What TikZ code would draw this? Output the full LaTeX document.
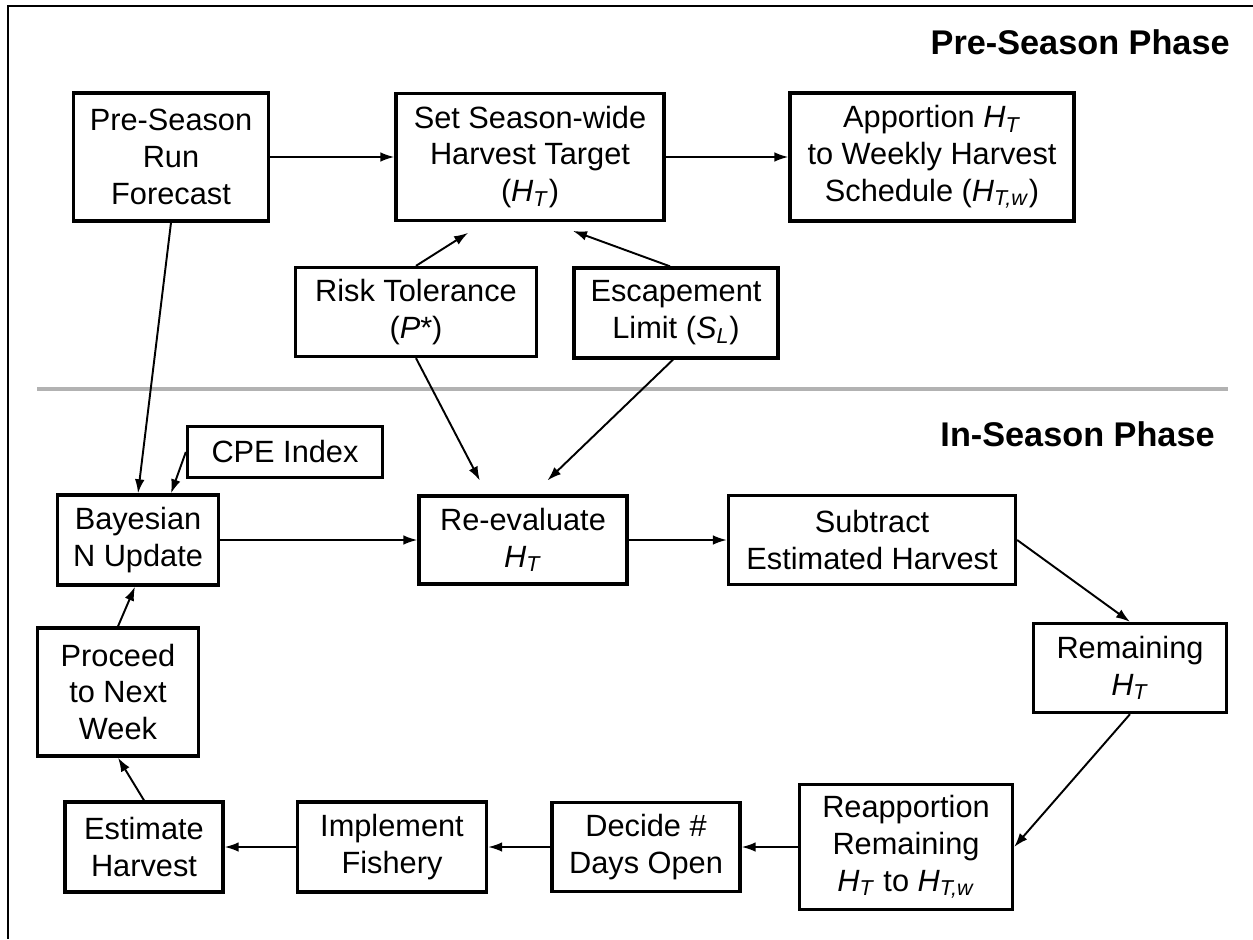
\documentclass[tikz,border=0pt]{standalone}
\usepackage{fontspec}
\setmainfont{Liberation Sans}
\usepackage{tikz}
\usetikzlibrary{arrows.meta, positioning, calc}

\newcommand{\Ht}{\textit{H}\textsubscript{\textit{T}}}
\newcommand{\Htw}{\textit{H}\textsubscript{\textit{T,w}}}

\tikzset{
    box/.style={draw, line width=1.9pt, align=center, inner sep=0pt,
        font=\fontsize{17.5}{21}\selectfont},
    arr/.style={-{Latex[length=8pt,width=5.5pt]}, line width=1.1pt},
    phase/.style={inner sep=0pt, font=\fontsize{19.5}{24}\selectfont\bfseries}
}

\begin{document}
\begin{tikzpicture}[x=0.02cm, y=-0.02cm]
        \useasboundingbox (0,0) rectangle (1253,939);
        \draw[line width=1.4pt] (1253,6) -- (8,6) -- (8,939);

        % Pre-season
        \node[phase, anchor=base east] (pretitle) at (1230,55) {Pre-Season Phase};
        \node[box, minimum width=3.9cm, minimum height=2.56cm] (fcst) at (171,157) {Pre-Season\\Run\\Forecast};
        \node[box, minimum width=5.36cm, minimum height=2.54cm] (target) at (530,157) {Set Season-wide\\Harvest Target\\(\Ht)};
        \node[box, minimum width=5.68cm, minimum height=2.56cm] (apport) at (932,157) {Apportion \Ht\\to Weekly Harvest\\Schedule (\Htw)};
        \node[box, minimum width=4.82cm, minimum height=1.78cm] (risk) at (416,312) {Risk Tolerance\\(\textit{P}*)};
        \node[box, minimum width=4.08cm, minimum height=1.8cm] (escape) at (676,313) {Escapement\\Limit (\textit{S}\textsubscript{\textit{L}})};

        % phase divider
        \draw[line width=1.8pt, gray!60] (37,389) -- (1228,389);

        % In-season
        \node[phase, anchor=base east] (intitle) at (1215,446) {In-Season Phase};
        \node[box, minimum width=3.9cm, minimum height=1.02cm] (cpe) at (285,452) {CPE Index};
        \node[box, minimum width=3.22cm, minimum height=1.8cm] (bayes) at (138,540) {Bayesian\\N Update};
        \node[box, minimum width=4.16cm, minimum height=1.76cm] (reeval) at (523,540) {Re-evaluate\\\Ht};
        \node[box, minimum width=5.74cm, minimum height=1.78cm] (subtr) at (872,540) {Subtract\\Estimated Harvest};
        \node[box, minimum width=3.86cm, minimum height=1.78cm] (remain) at (1130,668) {Remaining\\\Ht};
        \node[box, minimum width=4.26cm, minimum height=2.5cm] (reapp) at (906,847) {Reapportion\\Remaining\\\Ht{} to \Htw};
        \node[box, minimum width=3.76cm, minimum height=1.78cm] (decide) at (646,847) {Decide \#\\Days Open};
        \node[box, minimum width=3.78cm, minimum height=1.8cm] (implem) at (392,847) {Implement\\Fishery};
        \node[box, minimum width=3.16cm, minimum height=1.8cm] (estim) at (144,847) {Estimate\\Harvest};
        \node[box, minimum width=3.22cm, minimum height=2.56cm] (proceed) at (118,692) {Proceed\\to Next\\Week};

        % connectors
        \draw[arr] (fcst) -- (target);
        \draw[arr] (target) -- (apport);
        \draw[arr, shorten >=0.4cm] (risk.north) -- ([xshift=-0.9cm]target.south);
        \draw[arr, shorten >=0.51cm] ([xshift=-0.12cm]escape.north) -- ([xshift=0.38cm]target.south);
        \draw[arr] (fcst.south) -- (bayes.north);
        \draw[arr] (cpe.west) -- ([xshift=0.66cm]bayes.north);
        \draw[arr, shorten >=0.31cm] (risk.south) -- ([xshift=-0.72cm]reeval.north);
        \draw[arr, shorten >=0.4cm] ([xshift=-0.06cm]escape.south) -- ([xshift=0.2cm]reeval.north);
        \draw[arr] (bayes) -- (reeval);
        \draw[arr] (reeval) -- (subtr);
        \draw[arr] (subtr.east) -- (remain.north);
        \draw[arr] (remain.south) -- (reapp.east);
        \draw[arr] (reapp) -- (decide);
        \draw[arr] (decide) -- (implem);
        \draw[arr] (implem) -- (estim);
        \draw[arr] (estim.north) -- (proceed.south);
        \draw[arr] (proceed.north) -- ([xshift=-0.06cm]bayes.south);

    \end{tikzpicture}
\end{document}
